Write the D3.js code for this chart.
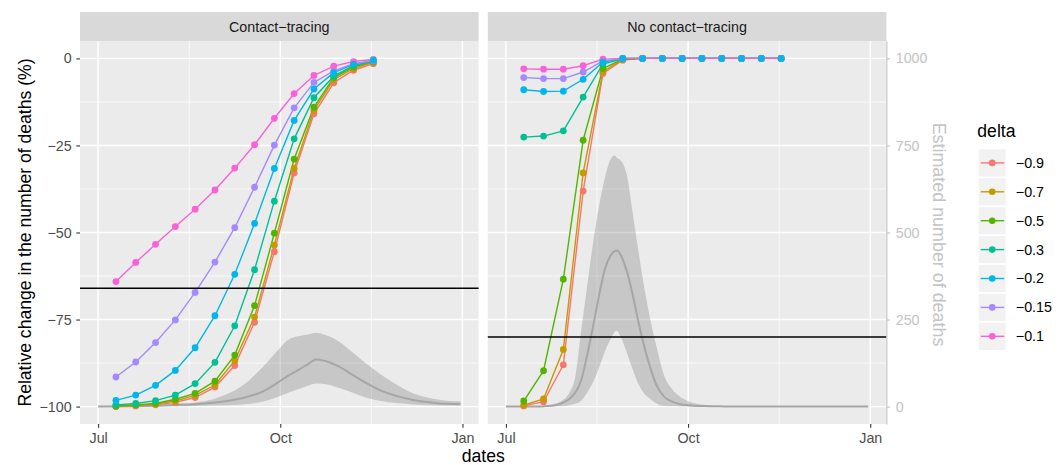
<!DOCTYPE html>
<html>
<head>
<meta charset="utf-8">
<script src="https://cdn.jsdelivr.net/npm/d3@7"></script>
<style>
  body { margin: 0; background: #fff; }
  text { font-family: "Liberation Sans", Arial, Helvetica, sans-serif; }
</style>
</head>
<body>
<script>
// ---------- data ----------
var panelTitles = ["Contact\u2212tracing", "No contact\u2212tracing"];
var deltas = ["-0.9", "-0.7", "-0.5", "-0.3", "-0.2", "-0.15", "-0.1"];
var deltaLabels = ["\u22120.9", "\u22120.7", "\u22120.5", "\u22120.3", "\u22120.2", "\u22120.15", "\u22120.1"];
var deltaColors = ["#F8766D", "#C49A00", "#53B400", "#00C094", "#00B6EB", "#A58AFF", "#FB61D7"];

var sampleDates = ["2020-07-10", "2020-07-20", "2020-07-30", "2020-08-09", "2020-08-19", "2020-08-29", "2020-09-08",
    "2020-09-18", "2020-09-28", "2020-10-08", "2020-10-18", "2020-10-28", "2020-11-07", "2020-11-17"];

// relative change (%) with contact tracing, one row per delta
var ctSeries = [
    [-100, -99.8, -99.5, -98.8, -97.4, -94.4, -88.2, -75.8, -55.5, -32.9, -15.9, -7.0, -3.4, -1.5],
    [-99.9, -99.6, -99.3, -98.4, -96.8, -93.8, -86.8, -74.3, -53.6, -31.6, -14.9, -6.1, -2.9, -1.1],
    [-99.8, -99.5, -99.1, -97.9, -96.2, -92.7, -85.2, -71.0, -50.2, -28.9, -14.0, -5.5, -2.4, -0.9],
    [-99.5, -99.1, -98.3, -96.7, -93.4, -87.3, -76.8, -60.7, -41.0, -23.1, -11.3, -5.1, -2.0, -0.8],
    [-98.2, -96.7, -93.9, -89.6, -83.1, -73.9, -62.0, -47.4, -31.6, -17.8, -8.8, -4.1, -1.7, -0.5],
    [-91.5, -87.2, -81.6, -75.1, -67.2, -58.5, -48.6, -37.0, -24.9, -14.2, -6.9, -3.6, -1.5, -0.7],
    [-64.1, -58.6, -53.4, -48.3, -43.3, -37.8, -31.5, -24.8, -17.2, -10.1, -4.9, -2.2, -0.9, -0.3]
];

// relative change (%) without contact tracing
var nctSeries = [
    [-99.8, -98.6, -88.0, -38.1, -4.3, -0.5, 0, 0, 0, 0, 0, 0, 0, 0],
    [-99.6, -97.8, -83.6, -32.9, -3.8, -0.3, 0, 0, 0, 0, 0, 0, 0, 0],
    [-98.4, -89.7, -63.4, -23.5, -2.9, -0.2, 0, 0, 0, 0, 0, 0, 0, 0],
    [-22.6, -22.3, -20.8, -11.1, -1.6, -0.1, 0, 0, 0, 0, 0, 0, 0, 0],
    [-9.0, -9.5, -9.4, -6.0, -1.1, 0, 0, 0, 0, 0, 0, 0, 0, 0],
    [-5.5, -5.8, -5.8, -3.9, -0.7, 0, 0, 0, 0, 0, 0, 0, 0, 0],
    [-3.0, -3.1, -3.1, -2.1, -0.2, 0, 0, 0, 0, 0, 0, 0, 0, 0]
];

// estimated number of deaths (secondary axis), contact tracing
var ctRibbonDates = ["2020-07-01", "2020-07-20", "2020-08-11", "2020-08-19", "2020-08-28", "2020-09-05", "2020-09-13",
    "2020-09-22", "2020-09-30", "2020-10-05", "2020-10-10", "2020-10-15", "2020-10-19", "2020-10-23", "2020-10-30",
    "2020-11-06", "2020-11-13", "2020-11-20", "2020-11-29", "2020-12-07", "2020-12-16", "2020-12-24", "2020-12-31"];
var ctMedian = [0, 1, 5, 7, 11, 17, 26, 43, 70, 89, 105, 122, 135, 132, 117, 93, 69, 48, 30, 19, 12, 8, 7];
var ctLower = [0, 0, 1, 2, 3, 4, 7, 14, 28, 40, 50, 60, 66, 65, 55, 41, 26, 17, 10, 6, 4, 3, 3];
var ctUpper = [0, 2, 9, 12, 21, 38, 65, 113, 163, 192, 202, 207, 212, 207, 189, 158, 125, 95, 62, 38, 24, 17, 15];

// estimated number of deaths, no contact tracing
var nctRibbonDates = ["2020-07-01", "2020-07-17", "2020-07-21", "2020-07-25", "2020-07-29", "2020-08-02", "2020-08-05",
    "2020-08-08", "2020-08-11", "2020-08-14", "2020-08-17", "2020-08-20", "2020-08-23", "2020-08-25", "2020-08-26",
    "2020-08-28", "2020-08-31", "2020-09-03", "2020-09-06", "2020-09-09", "2020-09-12", "2020-09-15", "2020-09-19",
    "2020-09-23", "2020-09-27", "2020-10-01", "2020-10-09", "2020-10-19", "2020-10-29", "2020-12-31"];
var nctMedian = [0, 0.5, 1.5, 3, 9, 22, 40, 75, 147, 230, 318, 395, 435, 447, 448, 435, 390, 322, 241, 170, 110, 62, 28, 14, 7, 4, 1.5, 0.5, 0, 0];
var nctLower = [0, 0, 0, 0.5, 1, 4, 8, 17, 40, 70, 111, 159, 195, 215, 218, 200, 156, 107, 64, 36, 22, 9, 2, 1, 0.5, 0, 0, 0, 0, 0];
var nctUpper = [0, 1, 2, 7, 16, 40, 85, 218, 345, 470, 575, 658, 712, 721, 715, 707, 667, 557, 443, 338, 248, 173, 88, 50, 28, 15, 5, 1, 0, 0];

var hlines = [-66, -80];
var yTicks = [-100, -75, -50, -25, 0];
var secTicks = [0, 250, 500, 750, 1000];

// ---------- layout ----------
var W = 1064, H = 465;
var stripTop = 12, panelTop = 41, panelBottom = 424;
var panelX = [[80, 478.6], [487.8, 886.4]];
var tickFont = "14.3px", titleFont = "17.6px";

var parse = d3.utcParse("%Y-%m-%d");

var svg = d3.select("body").append("svg")
    .attr("width", W)
    .attr("height", H);

// y scales share the panel height; secondary axis is deaths = (y + 100) * 10
var y = d3.scaleLinear().domain([-105, 5]).range([panelBottom, panelTop]);
var ySec = d3.scaleLinear().domain([-50, 1050]).range([panelBottom, panelTop]);

// x domain = data extent expanded by 5% like ggplot
var ext = d3.extent(ctRibbonDates.map(parse));
var pad = (ext[1] - ext[0]) * 0.05;
var xDomain = [new Date(+ext[0] - pad), new Date(+ext[1] + pad)];

var panelData = [
    {series: ctSeries, dates: ctRibbonDates, med: ctMedian, lo: ctLower, hi: ctUpper},
    {series: nctSeries, dates: nctRibbonDates, med: nctMedian, lo: nctLower, hi: nctUpper}
];

var pointOrder = [0, 1, 2, 3, 5, 6, 4];

panelData.forEach(function (pd, i) {
    var x0 = panelX[i][0], x1 = panelX[i][1];
    var x = d3.scaleUtc().domain(xDomain).range([x0, x1]);
    var g = svg.append("g");

    // panel background
    g.append("rect")
        .attr("x", x0).attr("y", panelTop)
        .attr("width", x1 - x0).attr("height", panelBottom - panelTop)
        .attr("fill", "#ebebeb");

    // strip
    g.append("rect")
        .attr("x", x0).attr("y", stripTop)
        .attr("width", x1 - x0).attr("height", panelTop - stripTop)
        .attr("fill", "#d9d9d9");
    g.append("text")
        .attr("x", (x0 + x1) / 2).attr("y", 32)
        .attr("text-anchor", "middle")
        .style("font-size", tickFont)
        .attr("fill", "#1a1a1a")
        .text(panelTitles[i]);

    // gridlines
    var xt = x.ticks(d3.utcMonth.every(3));
    var xMinor = d3.pairs(xt).map(function (p) { return new Date((+p[0] + +p[1]) / 2); });
    var yMinor = d3.pairs(yTicks).map(function (p) { return (p[0] + p[1]) / 2; });

    yMinor.forEach(function (v) {
        g.append("line").attr("x1", x0).attr("x2", x1).attr("y1", y(v)).attr("y2", y(v))
            .attr("stroke", "#fff").attr("stroke-width", 0.7);
    });
    xMinor.forEach(function (d) {
        g.append("line").attr("x1", x(d)).attr("x2", x(d)).attr("y1", panelTop).attr("y2", panelBottom)
            .attr("stroke", "#fff").attr("stroke-width", 0.7);
    });
    yTicks.forEach(function (v) {
        g.append("line").attr("x1", x0).attr("x2", x1).attr("y1", y(v)).attr("y2", y(v))
            .attr("stroke", "#fff").attr("stroke-width", 1.4);
    });
    xt.forEach(function (d) {
        g.append("line").attr("x1", x(d)).attr("x2", x(d)).attr("y1", panelTop).attr("y2", panelBottom)
            .attr("stroke", "#fff").attr("stroke-width", 1.4);
    });

    // ribbon + median of estimated deaths
    var rib = pd.dates.map(function (d, k) {
        return {date: parse(d), med: pd.med[k], lo: pd.lo[k], hi: pd.hi[k]};
    });
    var area = d3.area()
        .curve(d3.curveMonotoneX)
        .x(function (d) { return x(d.date); })
        .y0(function (d) { return ySec(d.lo); })
        .y1(function (d) { return ySec(d.hi); });
    var medLine = d3.line()
        .curve(d3.curveMonotoneX)
        .x(function (d) { return x(d.date); })
        .y(function (d) { return ySec(d.med); });
    g.append("path").datum(rib).attr("d", area)
        .attr("fill", "#7f7f7f").attr("fill-opacity", 0.33);
    g.append("path").datum(rib).attr("d", medLine)
        .attr("fill", "none").attr("stroke", "#a6a6a6").attr("stroke-width", 2);

    // series lines
    var line = d3.line()
        .x(function (d) { return x(d.date); })
        .y(function (d) { return y(d.v); });
    var rows = pd.series.map(function (vals) {
        return vals.map(function (v, k) { return {date: parse(sampleDates[k]), v: v}; });
    });
    rows.forEach(function (r, k) {
        g.append("path").datum(r).attr("d", line)
            .attr("fill", "none").attr("stroke", deltaColors[k]).attr("stroke-width", 1.4);
    });
    pointOrder.forEach(function (k) {
        g.selectAll(null).data(rows[k]).enter().append("circle")
            .attr("cx", function (d) { return x(d.date); })
            .attr("cy", function (d) { return y(d.v); })
            .attr("r", 3.4)
            .attr("fill", deltaColors[k]);
    });

    // threshold line
    g.append("line")
        .attr("x1", x0).attr("x2", x1)
        .attr("y1", y(hlines[i])).attr("y2", y(hlines[i]))
        .attr("stroke", "#000").attr("stroke-width", 1.4);

    // bottom axis
    var xAxis = d3.axisBottom(x)
        .tickValues(xt)
        .tickFormat(d3.utcFormat("%b"))
        .tickSize(3.7)
        .tickPadding(5.4);
    var ax = svg.append("g")
        .attr("transform", "translate(0," + panelBottom + ")")
        .call(xAxis);
    ax.select(".domain").remove();
    ax.selectAll("line").attr("stroke", "#333").attr("stroke-width", 1.1);
    ax.selectAll("text").attr("fill", "#4d4d4d").style("font-size", tickFont)
        .style("font-family", "'Liberation Sans', Arial, sans-serif");

    if (i === 0) {
        var yAxis = d3.axisLeft(y).tickValues(yTicks).tickSize(3.7).tickPadding(4.6);
        var ay = svg.append("g")
            .attr("transform", "translate(" + x0 + ",0)")
            .call(yAxis);
        ay.select(".domain").remove();
        ay.selectAll("line").attr("stroke", "#333").attr("stroke-width", 1.1);
        ay.selectAll("text").attr("fill", "#4d4d4d").style("font-size", tickFont)
            .style("font-family", "'Liberation Sans', Arial, sans-serif");
    } else {
        var secAxis = d3.axisRight(ySec).tickValues(secTicks).tickFormat(d3.format("d"))
            .tickSize(3.7).tickSizeOuter(0).tickPadding(5.6);
        var as = svg.append("g")
            .attr("transform", "translate(" + x1 + ",0)")
            .call(secAxis);
        as.select(".domain").attr("stroke", "#c4c4c4").attr("stroke-width", 1.1);
        as.selectAll("line").attr("stroke", "#c4c4c4").attr("stroke-width", 1.1);
        as.selectAll("text").attr("fill", "#c4c4c4").style("font-size", tickFont)
            .style("font-family", "'Liberation Sans', Arial, sans-serif");
    }
});

// axis titles
svg.append("text")
    .attr("x", (panelX[0][0] + panelX[1][1]) / 2).attr("y", 461.5)
    .attr("text-anchor", "middle")
    .style("font-size", titleFont)
    .text("dates");

svg.append("text")
    .attr("transform", "translate(30.5," + (panelTop + panelBottom) / 2 + ") rotate(-90)")
    .attr("text-anchor", "middle")
    .style("font-size", titleFont)
    .text("Relative change in the number of deaths (%)");

svg.append("text")
    .attr("transform", "translate(932.5," + ((panelTop + panelBottom) / 2 + 2) + ") rotate(90)")
    .attr("text-anchor", "middle")
    .style("font-size", "17.9px")
    .attr("fill", "#c4c4c4")
    .text("Estimated number of deaths");

// legend
var lg = svg.append("g").attr("transform", "translate(978.7,149.3)");
lg.append("text")
    .attr("x", -1.4).attr("y", -12)
    .style("font-size", titleFont)
    .text("delta");
var keyH = 27.2, keyStep = 28.9, keyW = 27;
deltas.forEach(function (d, k) {
    var ky = k * keyStep;
    lg.append("rect").attr("x", 0).attr("y", ky).attr("width", keyW).attr("height", keyH).attr("fill", "#f2f2f2");
    lg.append("line").attr("x1", 2).attr("x2", keyW - 1.5).attr("y1", ky + keyH / 2).attr("y2", ky + keyH / 2)
        .attr("stroke", deltaColors[k]).attr("stroke-width", 1.4);
    lg.append("circle").attr("cx", keyW / 2).attr("cy", ky + keyH / 2).attr("r", 3.3).attr("fill", deltaColors[k]);
    lg.append("text").attr("x", 37.1).attr("y", ky + keyH / 2 + 5)
        .style("font-size", tickFont)
        .text(deltaLabels[k]);
});
</script>
</body>
</html>
